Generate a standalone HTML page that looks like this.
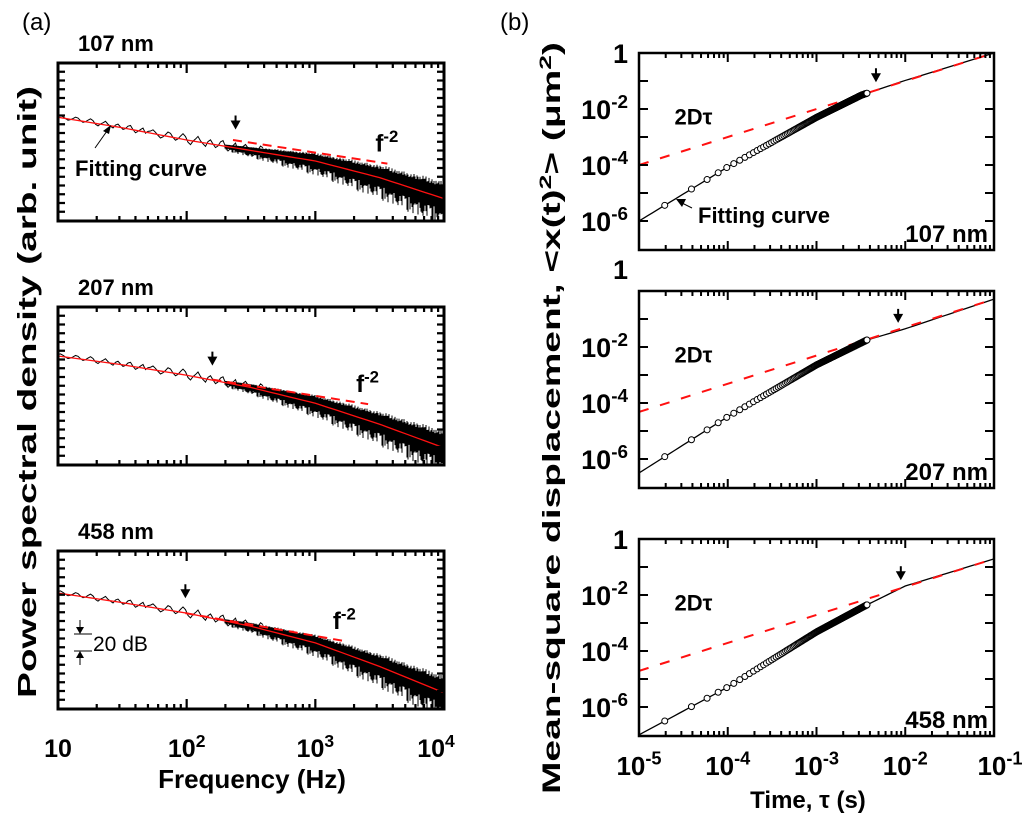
<!DOCTYPE html>
<html><head><meta charset="utf-8"><style>
html,body{margin:0;padding:0;background:#fff}
svg{display:block;font-family:"Liberation Sans",Arial,sans-serif}
</style></head><body>
<svg id="fig" width="1024" height="818" viewBox="0 0 1024 818">
<text x="22" y="30" font-size="24">(a)</text>
<text x="500" y="30" font-size="24">(b)</text>
<text font-weight="bold" font-size="26" transform="translate(36,392) rotate(-90)" text-anchor="middle" textLength="612" lengthAdjust="spacingAndGlyphs">Power spectral density (arb. unit)</text>
<text font-weight="bold" font-size="26" x="252" y="788" text-anchor="middle">Frequency (Hz)</text>
<text font-weight="bold" font-size="25" transform="translate(560,418) rotate(-90)" text-anchor="middle" textLength="752" lengthAdjust="spacingAndGlyphs">Mean-square displacement, &lt;x(t)<tspan dy="-9" font-size="17">2</tspan><tspan dy="9">&gt; (μm</tspan><tspan dy="-9" font-size="17">2</tspan><tspan dy="9">)</tspan></text>
<text font-weight="bold" font-size="24" x="808" y="808" text-anchor="middle">Time, τ (s)</text>
</svg>
<script>
// ---------- Panel (a) data ----------
const psdLogF = [1, 1.5, 2, 2.5, 3, 3.5, 4];
const psdFit107 = [-62, -74, -88, -100, -112, -131, -155];
const psdFit207 = [-56, -66, -78, -92, -110, -134, -161];
const psdFit458 = [-48, -59, -71, -86, -105, -132, -162];
const psdTitles = ['107 nm', '207 nm', '458 nm'];
const f2Line107 = [[2.36, -88], [3.56, -115]];
const f2Line207 = [[2.2, -83], [3.41, -111]];
const f2Line458 = [[1.99, -71], [3.23, -103]];
const cornerArrow107 = [2.38, -76];
const cornerArrow207 = [2.2, -67];
const cornerArrow458 = [1.99, -54];
const psdXTicks = ['10', '10|2', '10|3', '10|4'];
const jitter = [0.3,0.7,0.2,-0.4,-0.9,-0.5,0.1,0.8,0.6,-0.2,-0.7,-0.3,0.4,1,0.5,-0.6,-1,-0.2,0.3,0.9,0.1,-0.4,-0.8,0.2,0.6,-0.1,-0.7,-0.3,0.5,0.8,-0.2,-0.9,-0.4,0.2,0.7,-0.5,0.1];
const spikes = [0.2,0.9,0.4,0.1,0.7,0.3,1,0.5,0.15,0.6,0.25,0.85,0.35,0.05,0.75,0.45,0.95,0.2,0.55,0.3,0.8,0.1,0.65,0.4,0.9];

// ---------- Panel (b) data ----------
const msdLogT107 = [-5, -4, -3, -2.49, -2, -1];
const msdLogM107 = [-6, -4.07, -2.3, -1.5, -0.98, 0];
const msdLogT207 = [-5, -4, -3, -2.43, -2, -1];
const msdLogM207 = [-6.5, -4.49, -2.64, -1.75, -1.35, -0.29];
const msdLogT458 = [-5.12, -4, -3, -2.43, -2, -1];
const msdLogM458 = [-7.2, -5.29, -3.32, -2.35, -1.68, -0.71];
const dtLine107 = [[-5, -4], [-1, 0]];
const dtLine207 = [[-5, -4.32], [-1, -0.29]];
const dtLine458 = [[-5, -4.71], [-1, -0.71]];
const sampleDt = 1.95e-5;
const sampleCount = 190;
const msdArrowT = [-2.33, -2.08, -2.05];
const msdTitles = ['107 nm', '207 nm', '458 nm'];
const msdYTicks = ['1', '10|-2', '10|-4', '10|-6'];
const msdXTicks = ['10|-5', '10|-4', '10|-3', '10|-2', '10|-1'];

const NS = 'http://www.w3.org/2000/svg';
const svg = document.getElementById('fig');
function mk(tag, attrs, parent) {
  const e = document.createElementNS(NS, tag);
  for (const k in attrs) e.setAttribute(k, attrs[k]);
  (parent || svg).appendChild(e);
  return e;
}
function supText(parent, x, y, s, size, anchor) {
  const t = mk('text', {x: x, y: y, 'font-size': size, 'font-weight': 'bold', 'text-anchor': anchor}, parent);
  const p = s.split('|');
  t.appendChild(document.createTextNode(p[0]));
  if (p[1]) { const ts = mk('tspan', {dy: -size * 0.4, 'font-size': size * 0.7}, t); ts.textContent = p[1]; }
  return t;
}
function interp(xs, ys, x) {
  if (x <= xs[0]) return ys[0] + (ys[1] - ys[0]) * (x - xs[0]) / (xs[1] - xs[0]);
  for (let i = 1; i < xs.length; i++) if (x <= xs[i]) return ys[i-1] + (ys[i] - ys[i-1]) * (x - xs[i-1]) / (xs[i] - xs[i-1]);
  const n = xs.length - 1;
  return ys[n] + (ys[n] - ys[n-1]) * (x - xs[n]) / (xs[n] - xs[n-1]);
}
function downArrow(g, x, tipY) {
  mk('line', {x1: x, y1: tipY - 14, x2: x, y2: tipY - 6, stroke: '#000', 'stroke-width': 2}, g);
  mk('polygon', {points: `${x-5},${tipY-9} ${x+5},${tipY-9} ${x},${tipY}`, fill: '#000'}, g);
}

// ---------- build panel (a) ----------
const aL = 58, aR = 444, aH = 158, dBpx = 0.875;
const aTops = [63, 307, 551];
const aFits = [psdFit107, psdFit207, psdFit458];
const aF2 = [f2Line107, f2Line207, f2Line458];
const aArr = [cornerArrow107, cornerArrow207, cornerArrow458];
const ax = lf => aL + (lf - 1) * (aR - aL) / 3;
aTops.forEach((top, pi) => {
  const g = mk('g', {});
  
  
  const ay = dB => top + (-dB) * dBpx;
  const fit = aFits[pi];
  const tt = mk('text', {x: 78, y: top - 12, 'font-size': 22, 'font-weight': 'bold'}, g);
  tt.textContent = psdTitles[pi];
  
  
  const cp = mk('clipPath', {id: 'ca' + pi}, g);
  mk('rect', {x: aL, y: top, width: aR - aL, height: aH}, cp);
  const dg = mk('g', {'clip-path': `url(#ca${pi})`}, g);
  // low freq wiggly line
  let pts = [];
  let i = 0;
  for (let x = aL; x <= ax(2.6); x += 2.5, i++) {
    const lf = 1 + (x - aL) * 3 / (aR - aL);
    const amp = 2.5 + (lf - 1) * 3;
    pts.push(`${x.toFixed(1)},${ay(interp(psdLogF, fit, lf) + 1 + jitter[i % jitter.length] * amp)}`);
  }
  const wl = mk('polyline', {points: pts.join(' '), fill: 'none', stroke: '#000', 'stroke-width': 1}, dg);
  
  
  // dense noisy band
  let d = '';
  i = 0;
  for (let x = Math.round(ax(2.3)); x <= aR; x++, i++) {
    const lf = 1 + (x - aL) * 3 / (aR - aL);
    const c = interp(psdLogF, fit, lf);
    const w = (lf - 2.3) / 1.7;
    const up = 2 + w * 18 * (0.6 + 0.4 * Math.abs(jitter[i % jitter.length]));
    const dn = 2 + w * 10 + spikes[(i * 7) % spikes.length] * (3 + w * 18);
    d += `M${x} ${ay(c + up)}V${ay(c - dn)}`;
  }
  const band = mk('path', {d: d, stroke: '#000', 'stroke-width': 1, fill: 'none'}, dg);
  
  
  // fit
  const fpts = [];
  for (let lf = 1; lf <= 4.001; lf += 0.05) fpts.push(`${ax(lf)},${ay(interp(psdLogF, fit, lf))}`);
  const fl = mk('polyline', {points: fpts.join(' '), fill: 'none', stroke: '#ff1010', 'stroke-width': 1.3}, g);
  
  
  const f2 = aF2[pi];
  const dl = mk('line', {x1: ax(f2[0][0]), y1: ay(f2[0][1]), x2: ax(f2[1][0]), y2: ay(f2[1][1]), stroke: '#ff1010', 'stroke-width': 2, 'stroke-dasharray': '9 6'}, g);
  
  
  const fl2 = supText(g, ax(f2[1][0]) - 12, ay(f2[1][1]) - 12, 'f|-2', 24, 'start');
  
  
  const ar = aArr[pi];
  downArrow(g, ax(ar[0]), ay(ar[1]));
  // frame & ticks
  mk('rect', {x: aL, y: top, width: aR - aL, height: aH, fill: 'none', stroke: '#000', 'stroke-width': 3}, g);
  let td = '';
  for (let dB = -10; dB > -180; dB -= 10) {
    const y = ay(dB);
    td += `M${aL} ${y}h7M${aR} ${y}h-7`;
  }
  for (let dec = 1; dec < 4; dec++) for (let m = 1; m <= 10; m++) {
    const lf = dec + Math.log10(m);
    const x = ax(lf), L = (m === 1 || m === 10) ? 10 : 5;
    td += `M${x} ${top}v${L}M${x} ${top + aH}v${-L}`;
  }
  mk('path', {d: td, stroke: '#000', 'stroke-width': 2.2, fill: 'none'}, g);
});
// Fitting curve label (a)
const fca = mk('text', {x: 75, y: 176, 'font-size': 22, 'font-weight': 'bold'});
fca.textContent = 'Fitting curve';


mk('line', {x1: 95, y1: 148, x2: 107, y2: 131, stroke: '#000', 'stroke-width': 1});
mk('polygon', {points: '111,125 103,131 109,134', fill: '#000'});
// 20 dB marker
const db = mk('g', {});


mk('path', {d: 'M74 634h18M74 651h18M80 620v9M80 665v-9', stroke: '#000', 'stroke-width': 1}, db);
mk('polygon', {points: '76,627 84,627 80,634', fill: '#000'}, db);
mk('polygon', {points: '76,658 84,658 80,651', fill: '#000'}, db);
const dbt = mk('text', {x: 93, y: 651, 'font-size': 21}, db);
dbt.textContent = '20 dB';
psdXTicks.forEach((s, k) => {
  const t = supText(svg, ax(1 + k) + (k === 3 ? -8 : 0), 757, s, 25, 'middle');
  
  
});

// ---------- build panel (b) ----------
const bL = 639, bR = 994, bH = 197, decPx = 28;
const bTops = [53, 291, 539];
const bT = [msdLogT107, msdLogT207, msdLogT458];
const bM = [msdLogM107, msdLogM207, msdLogM458];
const bD = [dtLine107, dtLine207, dtLine458];
const bx = lt => bL + (lt + 5) * (bR - bL) / 4;
bTops.forEach((top, pi) => {
  const g = mk('g', {});
  
  
  const by = lm => top + (-lm) * decPx;
  const cp = mk('clipPath', {id: 'cb' + pi}, g);
  mk('rect', {x: bL, y: top, width: bR - bL, height: bH}, cp);
  const dg = mk('g', {'clip-path': `url(#cb${pi})`}, g);
  const T = bT[pi], M = bM[pi];
  let pts = [];
  for (let lt = -5.2; lt <= -1; lt += 0.05) pts.push(`${bx(lt)},${by(interp(T, M, lt))}`);
  const fc = mk('polyline', {points: pts.join(' '), fill: 'none', stroke: '#000', 'stroke-width': 1.3}, dg);
  
  
  const D = bD[pi];
  const rl = mk('line', {x1: bx(D[0][0]), y1: by(D[0][1]), x2: bx(D[1][0]), y2: by(D[1][1]), stroke: '#ff1010', 'stroke-width': 2, 'stroke-dasharray': '10 12'}, dg);
  
  
  for (let n = 1; n <= sampleCount; n++) {
    const lt = Math.log10(n * sampleDt);
    const c = mk('circle', {cx: bx(lt), cy: by(interp(T, M, lt)), r: 3, fill: '#fff', stroke: '#000', 'stroke-width': 1}, dg);
    
    
  }
  const at = msdArrowT[pi];
  downArrow(g, bx(at), by(interp(T, M, at)) - 8);
  mk('rect', {x: bL, y: top, width: bR - bL, height: bH, fill: 'none', stroke: '#000', 'stroke-width': 2.5}, g);
  let td = '';
  for (let k = 1; k < 7; k++) { const y = by(-k); td += `M${bL} ${y}h9M${bR} ${y}h-9`; }
  for (let dec = -5; dec < -1; dec++) for (let m = 1; m <= 10; m++) {
    const lt = dec + Math.log10(m), x = bx(lt), L = (m === 1 || m === 10) ? 9 : 5;
    td += `M${x} ${top}v${L}M${x} ${top + bH}v${-L}`;
  }
  mk('path', {d: td, stroke: '#000', 'stroke-width': 2, fill: 'none'}, g);
  msdYTicks.forEach((s, k) => {
    const yy = (pi === 1 && k === 0) ? 279 : by(-2 * k) + 10;
    const t = supText(g, 628, yy, s, 27, 'end');
    
    
  });
  const lab = mk('text', {x: bx(-4.6), y: by(-2.55), 'font-size': 22, 'font-weight': 'bold'}, g);
  lab.textContent = '2Dτ';
  
  
  const nt = mk('text', {x: bR - 6, y: top + bH - 8, 'font-size': 24, 'font-weight': 'bold', 'text-anchor': 'end'}, g);
  nt.textContent = msdTitles[pi];
  
  
});
const fcb = mk('text', {x: 698, y: 223, 'font-size': 22, 'font-weight': 'bold'});
fcb.textContent = 'Fitting curve';


mk('line', {x1: 692, y1: 208, x2: 682, y2: 203, stroke: '#000', 'stroke-width': 1});
mk('polygon', {points: '676,199 686,199 682,207', fill: '#000'});
msdXTicks.forEach((s, k) => {
  const t = supText(svg, bx(-5 + k) + (k === 4 ? 6 : 0), 775, s, 26, 'middle');
  
  
});
</script>
</body></html>
